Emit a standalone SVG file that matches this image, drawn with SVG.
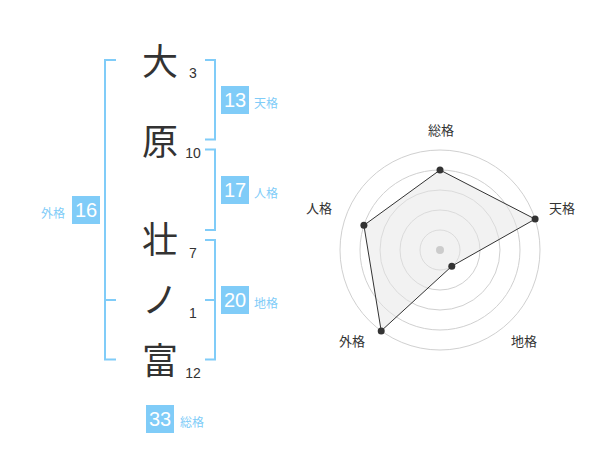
<svg xmlns="http://www.w3.org/2000/svg" width="600" height="470" viewBox="0 0 600 470">
<style>
text{font-family:"Liberation Sans","Noto Sans CJK JP",sans-serif}
.ch{font-size:36px;fill:#333;text-anchor:middle}
.st{font-size:14px;fill:#333;text-anchor:middle}
.box{fill:#80ccf8}
.bn{font-size:20px;fill:#fff;text-anchor:middle}
.lb{font-size:12px;fill:#80ccf8}
.br{fill:none;stroke:#80ccf8;stroke-width:2}
.ring{fill:none;stroke:#d0d0d0;stroke-width:1}
.rl{font-size:13px;fill:#333;text-anchor:middle}
.pt{fill:#333}
</style>
<rect width="600" height="470" fill="#fff"/>
<g id="chars">
<text class="ch" x="160" y="75">大</text>
<text class="ch" x="160" y="155">原</text>
<text class="ch" x="160" y="253">壮</text>
<text class="ch" x="160" y="313">ノ</text>
<text class="ch" x="160" y="374">富</text>
<text class="st" x="193" y="78">3</text>
<text class="st" x="193" y="158">10</text>
<text class="st" x="193" y="258">7</text>
<text class="st" x="193" y="318">1</text>
<text class="st" x="193" y="378">12</text>
</g>
<g id="connectors">
<path class="br" d="M116,60H105V359.5H116M105,300H116"/>
<path class="br" d="M205,60H215V139.5H205"/>
<path class="br" d="M205,149.5H215V230H205"/>
<path class="br" d="M205,240H215V359.5H205M205,300H215"/>
</g>
<g id="tenkaku">
<rect class="box" x="221" y="86" width="28" height="28"/>
<text class="bn" x="235" y="107">13</text>
<text class="lb" x="254" y="108">天格</text>
</g>
<g id="jinkaku">
<rect class="box" x="221" y="176" width="28" height="28"/>
<text class="bn" x="235" y="197">17</text>
<text class="lb" x="254" y="198">人格</text>
</g>
<g id="chikaku">
<rect class="box" x="221" y="286" width="28" height="28"/>
<text class="bn" x="235" y="307">20</text>
<text class="lb" x="254" y="308">地格</text>
</g>
<g id="gaikaku">
<rect class="box" x="72" y="196" width="28" height="28"/>
<text class="bn" x="86" y="217">16</text>
<text class="lb" x="65" y="218" text-anchor="end">外格</text>
</g>
<g id="soukaku">
<rect class="box" x="146" y="405" width="28" height="28"/>
<text class="bn" x="160" y="426">33</text>
<text class="lb" x="180" y="427">総格</text>
</g>
<g id="radar">
<circle class="ring" cx="440" cy="250" r="20"/>
<circle class="ring" cx="440" cy="250" r="40"/>
<circle class="ring" cx="440" cy="250" r="60"/>
<circle class="ring" cx="440" cy="250" r="80"/>
<circle class="ring" cx="440" cy="250" r="100"/>
<polygon points="440,170 535.1,219.1 451.8,266.2 381.2,330.9 363.9,225.3" fill="#e6e6e6" fill-opacity="0.5" stroke="#333" stroke-width="1"/>
<circle cx="440" cy="250" r="4" fill="#ccc"/>
<circle class="pt" cx="440" cy="170" r="3.5"/>
<circle class="pt" cx="535.1" cy="219.1" r="3.5"/>
<circle class="pt" cx="451.8" cy="266.2" r="3.5"/>
<circle class="pt" cx="381.2" cy="330.9" r="3.5"/>
<circle class="pt" cx="363.9" cy="225.3" r="3.5"/>
<text class="rl" x="441" y="135">総格</text>
<text class="rl" x="562" y="213">天格</text>
<text class="rl" x="524" y="346">地格</text>
<text class="rl" x="352" y="346">外格</text>
<text class="rl" x="319" y="213">人格</text>
</g>
</svg>
